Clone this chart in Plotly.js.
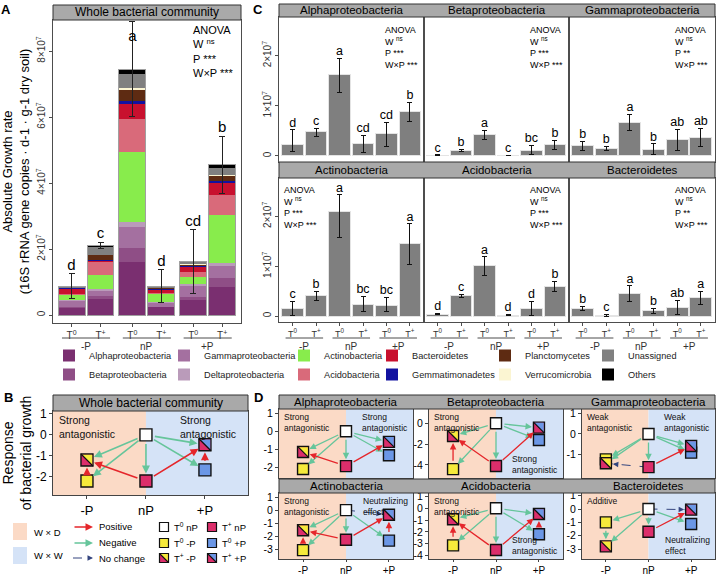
<!DOCTYPE html>
<html><head><meta charset="utf-8">
<script src="https://cdn.plot.ly/plotly-3.0.1.min.js"></script>
<style>html,body{margin:0;padding:0;background:#fff}#chart{width:716px;height:576px}</style>
</head><body><div id="chart"></div>
<script>
// ================= DATA =================
const treatmentLabels = ['T<sup>0</sup>','T<sup>+</sup>','T<sup>0</sup>','T<sup>+</sup>','T<sup>0</sup>','T<sup>+</sup>'];
const pLevels = ['-P','nP','+P'];

// Panel A: absolute growth rate, stacked by taxon (units of 1e7 copies)
const taxaA = ['Alphaproteobacteria','Betaproteobacteria','Gammaproteobacteria','Deltaproteobacteria','Actinobacteria','Acidobacteria','Bacteroidetes','Gemmatimonadetes','Planctomycetes','Verrucomicrobia','Unassigned','Others'];
const alphaA   = [0.22,0.48,1.60,0.25,0.45,0.86];
const betaA    = [0.01,0.10,0.42,0.01,0.11,0.25];
const gammaA   = [0.20,0.15,0.66,0.12,0.32,0.37];
const deltaA   = [0.03,0.06,0.15,0.03,0.05,0.10];
const actinoA  = [0.15,0.41,2.10,0.23,0.22,1.45];
const acidoA   = [0.04,0.41,1.01,0.02,0.15,0.61];
const bacteroA = [0.15,0.02,0.45,0.11,0.17,0.37];
const gemmaA   = [0.01,0.03,0.10,0.02,0.02,0.05];
const planctoA = [0.01,0.15,0.33,0.03,0.03,0.15];
const verruA   = [0.01,0.02,0.05,0.01,0.02,0.04];
const unassA   = [0.03,0.22,0.43,0.04,0.06,0.20];
const othersA  = [0.01,0.07,0.15,0.01,0.02,0.10];
const errA     = [0.38,0.09,1.43,0.50,0.96,0.87];
const lettersA = ['d','c','a','d','cd','b'];
const yTicksA  = [0,2,4,6,8];

// Panel C: per-taxon growth (units of 1e7)
const taxaC = ['Alphaproteobacteria','Betaproteobacteria','Gammaproteobacteria','Actinobacteria','Acidobacteria','Bacteroidetes'];
const alphaC = [0.22,0.48,1.62,0.25,0.45,0.89];
const alphaUp = [0.30,0.07,0.33,0.16,0.22,0.18];
const alphaDn = [0.13,0.09,0.35,0.18,0.26,0.20];
const alphaLet = ['d','c','a','cd','cd','b'];
const betaC = [0.01,0.11,0.42,0.01,0.11,0.22];
const betaUp = [0.01,0.02,0.09,0.005,0.10,0.09];
const betaDn = [0.01,0.02,0.09,0.005,0.09,0.10];
const betaLet = ['c','b','a','c','bc','b'];
const gammaC = [0.20,0.15,0.67,0.12,0.32,0.37];
const gammaUp = [0.09,0.04,0.16,0.12,0.21,0.18];
const gammaDn = [0.09,0.04,0.16,0.10,0.21,0.18];
const gammaLet = ['b','b','a','b','ab','ab'];
const actinoC = [0.15,0.41,2.10,0.23,0.22,1.45];
const actinoUp = [0.14,0.08,0.33,0.16,0.15,0.40];
const actinoDn = [0.13,0.09,0.53,0.14,0.13,0.42];
const actinoLet = ['c','b','a','bc','bc','a'];
const acidoC = [0.04,0.41,1.01,0.02,0.15,0.59];
const acidoUp = [0.01,0.02,0.18,0.01,0.14,0.11];
const acidoDn = [0.01,0.03,0.19,0.01,0.13,0.09];
const acidoLet = ['d','c','a','d','d','b'];
const bacteroC = [0.15,0.02,0.46,0.11,0.17,0.37];
const bacteroUp = [0.04,0.02,0.15,0.04,0.14,0.12];
const bacteroDn = [0.03,0.02,0.17,0.05,0.13,0.14];
const bacteroLet = ['b','c','a','b','ab','a'];
const pSig = ['***','***','**','***','***','**'];
const yTicksC = [0,1,2];

// Panels B & D: responses of bacterial growth
const nodeNames = ['T0 nP','T0 -P','T+ -P','T+ nP','T0 +P','T+ +P'];
const nodeP     = ['nP','-P','-P','nP','+P','+P'];
const wholeResp  = [0,-2.2,-1.2,-2.2,-1.67,-0.47];
const alphaResp  = [0,-2.1,-1.15,-1.94,-1.33,-0.59];
const betaResp   = [0,-4.4,-1.22,-4.1,-1.6,-0.42];
const gammaResp  = [0,-1.24,-1.43,-1.62,-0.91,-0.59];
const actinoResp = [0,-3.07,-1.55,-2.27,-2.34,-0.36];
const acidoResp  = [0,-3.14,-0.93,-3.54,-2.2,-0.48];
const bacteroResp= [0,-1.0,-2.8,-1.71,-1.12,-0.05];
const stdEdges    = [[0,2,'neg'],[0,1,'neg'],[0,3,'neg'],[0,5,'neg'],[0,4,'neg'],[1,2,'pos'],[3,2,'pos'],[3,5,'pos'],[4,5,'pos']];
const gammaEdges  = [[0,1,'neg'],[0,2,'neg'],[0,3,'neg'],[0,5,'neg'],[0,4,'neg'],[3,2,'none'],[3,5,'pos']];
const actinoEdges = [[0,2,'neg'],[0,1,'neg'],[0,3,'neg'],[0,4,'neg'],[0,5,'none'],[1,2,'pos'],[3,2,'pos'],[3,5,'pos'],[4,5,'pos']];
const bacteroEdges= [[0,1,'neg'],[0,2,'neg'],[0,3,'neg'],[0,4,'neg'],[1,2,'neg'],[0,5,'none'],[3,5,'pos'],[4,5,'pos']];
const SA = 'Strong<br>antagonistic', WA = 'Weak<br>antagonistic', NE = 'Neutralizing<br>effect';
const wholeNotes  = [['tl',SA],['tr',SA]];
const alphaNotes  = [['tl',SA],['tr',SA]];
const betaNotes   = [['tl',SA],['br',SA]];
const gammaNotes  = [['tl',WA],['tr',WA]];
const actinoNotes = [['tl',SA],['tr',NE]];
const acidoNotes  = [['tl',SA],['br',SA]];
const bacteroNotes= [['tl','Additive'],['br',NE]];

// ================= STYLE / LAYOUT HELPERS =================
const W = 716, H = 576, S = 1e7;
const fx = p => p / W, fy = p => 1 - p / H;
const FONT = 'Liberation Sans, Arial, sans-serif';
const colorsA = ['#7A2F70','#8F4E86','#A470A0','#BA9BBA','#88EC4C','#D96A7A','#C8102E','#1212A0','#5E2B12','#FBF5D2','#808080','#000000'];
const nodeBase  = ['#FFFFFF','#F6EA3B','#DC2E6B','#DC2E6B','#6B97E6','#DC2E6B'];
const nodeSplit = [null,null,'#F6EA3B',null,null,'#6B97E6'];
const RED = '#E5262B', GREEN = '#66C59B', NAVY = '#34457F';
const PEACH = '#FBDAC6', LBLUE = '#D5E3F7';

const traces = [], shapes = [], annotations = [];
const layout = {
  width: W, height: H, margin: {l:0,r:0,t:0,b:0},
  paper_bgcolor: '#fff', plot_bgcolor: 'rgba(0,0,0,0)',
  font: {family: FONT, size: 10, color: '#000'},
  barmode: 'stack', showlegend: true, hovermode: false,
  shapes, annotations
};
function axisBase() {
  return {showgrid:false, zeroline:false, showline:true, mirror:true, linecolor:'#4d4d4d', linewidth:1,
          ticks:'outside', ticklen:3, tickcolor:'#4d4d4d', tickfont:{size:10, color:'#333'}, fixedrange:true};
}
function strip(x0, x1, y0, y1) {
  shapes.push({type:'rect', xref:'paper', yref:'paper', x0:fx(x0), x1:fx(x1), y0:fy(y1), y1:fy(y0),
    fillcolor:'#A9A9A9', line:{color:'#333', width:1}, layer:'above'});
}
function label(text, x, y, size, opts) {
  annotations.push(Object.assign({xref:'paper', yref:'paper', x:fx(x), y:fy(y), text, showarrow:false,
    font:{size, color:'#000'}, xanchor:'center', yanchor:'middle'}, opts || {}));
}
const anova = p => 'ANOVA<br>W <sup>ns</sup><br>P ' + p + '<br>W×P ***';

// ================= PANEL A =================
const seriesA = [alphaA,betaA,gammaA,deltaA,actinoA,acidoA,bacteroA,gemmaA,planctoA,verruA,unassA,othersA];
const posA = treatmentLabels.map((t, i) => 1 + i + Math.floor(i / 2) * 0.1);
const totalsA = posA.map((_, i) => seriesA.reduce((s, a) => s + a[i], 0));
const rangeAx = [0.36, 6.85], rangeAy = [-0.24 * S, 8.94 * S];
seriesA.forEach((vals, k) => {
  const col = Math.floor(k / 2);
  traces.push({type:'bar', x:posA, y:vals.map(v => v * S), width:0.93, name:taxaA[k],
    marker:{color:colorsA[k], line:{width:0}}, xaxis:'x', yaxis:'y',
    legend: col === 0 ? 'legend' : 'legend' + (col + 1), hoverinfo:'skip'});
});
traces.push({type:'bar', x:posA, y:totalsA.map(v => v * S), width:0.93, showlegend:false,
  marker:{color:'rgba(0,0,0,0)', line:{color:'#a0a0a0', width:1}},
  error_y:{type:'data', array:errA.map(v => v * S), color:'#222', thickness:1, width:3},
  xaxis:'x2', yaxis:'y2', hoverinfo:'skip'});
// letters sit just above the error bar, kept inside the panel
traces.push({type:'scatter', mode:'text', x:posA,
  y:totalsA.map((v, i) => Math.min((v + errA[i]) * S, rangeAy[1] - 0.75 * S)), text:lettersA,
  textposition:'top center', textfont:{size:15}, xaxis:'x2', yaxis:'y2', showlegend:false, cliponaxis:false, hoverinfo:'skip'});
layout.xaxis = Object.assign(axisBase(), {domain:[fx(53), fx(241)], range:rangeAx, anchor:'y',
  tickvals:posA, ticktext:treatmentLabels, tickfont:{size:10, color:'#333'}});
layout.yaxis = Object.assign(axisBase(), {domain:[fy(323), fy(20)], range:rangeAy, anchor:'x',
  tickvals:yTicksA.map(v => v * S), ticktext:yTicksA.map(v => v === 0 ? '0' : v + '×10<sup>7</sup>'), tickangle:-90,
  title:{text:'Absolute Growth rate<br>(16S rRNA gene copies · d-1 · g-1 dry soil)', font:{size:13}, standoff:4}});
layout.xaxis2 = {overlaying:'x', range:rangeAx, visible:false, anchor:'y2', fixedrange:true};
layout.yaxis2 = {overlaying:'y', range:rangeAy, visible:false, anchor:'x2', fixedrange:true};
strip(53, 241, 5, 20);
label('Whole bacterial community', 147, 12.5, 12);
label(anova('***'), 191, 22, 11, {xanchor:'left', yanchor:'top', align:'left'});
pLevels.forEach((p, g) => {
  const a = posA[2 * g], b = posA[2 * g + 1];
  shapes.push({type:'line', xref:'x', yref:'paper', x0:a - 0.33, x1:b + 0.33, y0:fy(338), y1:fy(338), line:{color:'#4d4d4d', width:1}});
  annotations.push({xref:'x', yref:'paper', x:(a + b) / 2, y:fy(346), text:p, showarrow:false, font:{size:10, color:'#333'}});
});

// legends (6 columns x 2 rows)
const legendTextX = [89, 204, 324, 412, 525, 628];
legendTextX.forEach((tx, c) => {
  layout[c === 0 ? 'legend' : 'legend' + (c + 1)] = {x:fx(tx - 40), xanchor:'left', y:fy(341), yanchor:'top',
    orientation:'v', traceorder:'normal', font:{size:9.2, color:'#222'}, bgcolor:'rgba(0,0,0,0)', borderwidth:0,
    tracegroupgap:0, itemwidth:30, itemclick:false, itemdoubleclick:false};
});

// ================= PANEL C =================
const valsC = [alphaC, betaC, gammaC, actinoC, acidoC, bacteroC];
const upC = [alphaUp, betaUp, gammaUp, actinoUp, acidoUp, bacteroUp];
const dnC = [alphaDn, betaDn, gammaDn, actinoDn, acidoDn, bacteroDn];
const letC = [alphaLet, betaLet, gammaLet, actinoLet, acidoLet, bacteroLet];
const posC = treatmentLabels.map((t, i) => i + 1);
const cCols = [[279, 424], [424, 569], [569, 715]];
const cRows = [[17, 162], [178, 322]];
const anovaXC = [[383, 528, 673], [282, 528, 673]];
const anovaYC = [23, 183];
const rangeCy = [-0.12 * S, 2.77 * S];
taxaC.forEach((nm, i) => {
  const n = 3 + i, col = i % 3, row = Math.floor(i / 3), xa = 'x' + n, ya = 'y' + n;
  traces.push({type:'bar', x:posC, y:valsC[i].map(v => v * S), width:0.93, showlegend:false,
    marker:{color:'#7F7F7F', line:{color:'#e4e4e4', width:1}},
    error_y:{type:'data', symmetric:false, array:upC[i].map(v => v * S), arrayminus:dnC[i].map(v => v * S), color:'#111', thickness:1, width:2.5},
    xaxis:xa, yaxis:ya, hoverinfo:'skip'});
  traces.push({type:'scatter', mode:'text', x:posC,
    y:valsC[i].map((v, j) => Math.min((v + upC[i][j]) * S, rangeCy[1] - 0.3 * S)), text:letC[i],
    textposition:'top center', textfont:{size:12.5}, xaxis:xa, yaxis:ya, showlegend:false, cliponaxis:false, hoverinfo:'skip'});
  layout['xaxis' + n] = Object.assign(axisBase(), {domain:[fx(cCols[col][0]), fx(cCols[col][1])], range:[0.42, 6.6], anchor:ya,
    tickvals:posC, ticktext:treatmentLabels, showticklabels:row === 1, ticks:row === 1 ? 'outside' : '', tickfont:{size:9, color:'#333'}});
  layout['yaxis' + n] = Object.assign(axisBase(), {domain:[fy(cRows[row][1]), fy(cRows[row][0])], range:rangeCy, anchor:xa,
    tickvals:yTicksC.map(v => v * S), ticktext:yTicksC.map(v => v === 0 ? '0' : v + '×10<sup>7</sup>'), tickangle:-90,
    showticklabels:col === 0, ticks:col === 0 ? 'outside' : ''});
  label(nm, (cCols[col][0] + cCols[col][1]) / 2, row === 0 ? 10.5 : 170, 11.5);
  label(anova(pSig[i]), anovaXC[row][col], anovaYC[row], 9, {xanchor:'left', yanchor:'top', align:'left'});
  if (row === 1) {
    pLevels.forEach((p, g) => {
      const a = posC[2 * g], b = posC[2 * g + 1];
      shapes.push({type:'line', xref:xa, yref:'paper', x0:a - 0.3, x1:b + 0.3, y0:fy(338), y1:fy(338), line:{color:'#4d4d4d', width:1}});
      annotations.push({xref:xa, yref:'paper', x:(a + b) / 2, y:fy(346), text:p, showarrow:false, font:{size:10, color:'#333'}});
    });
  }
});
strip(279, 715, 4, 17);
strip(279, 715, 162, 178);

// ================= PANELS B & D =================
function addRespPanel(n, dom, xr, yr, yticks, resp, edges, notes, opt) {
  const xa = 'x' + n, ya = 'y' + n;
  const xs = nodeP.map(p => pLevels.indexOf(p));
  const mid = pLevels.indexOf('nP');
  shapes.push({type:'rect', xref:xa, yref:ya + ' domain', x0:xr[0], x1:mid, y0:0, y1:1, fillcolor:PEACH, line:{width:0}, layer:'below'});
  shapes.push({type:'rect', xref:xa, yref:ya + ' domain', x0:mid, x1:xr[1], y0:0, y1:1, fillcolor:LBLUE, line:{width:0}, layer:'below'});
  const pxX = (dom.x[1] - dom.x[0]) / (xr[1] - xr[0]);
  const pxY = (dom.y[1] - dom.y[0]) / (yr[1] - yr[0]);
  edges.filter(e => e[2] === 'none').forEach(e => {
    const a = e[0], b = e[1];
    traces.push({type:'scatter', mode:'lines', x:[xs[a], xs[b]], y:[resp[a], resp[b]], line:{color:NAVY, width:1, dash:'dash'},
      xaxis:xa, yaxis:ya, showlegend:false, hoverinfo:'skip'});
    const dx = (xs[b] - xs[a]) * pxX, dy = -(resp[b] - resp[a]) * pxY, L = Math.hypot(dx, dy);
    annotations.push({xref:xa, yref:ya, x:xs[b], y:resp[b], ax:-dx / L * (opt.st + 5), ay:-dy / L * (opt.st + 5), text:'',
      showarrow:true, arrowhead:2, arrowsize:1.1, arrowwidth:1, arrowcolor:NAVY, standoff:opt.st});
  });
  traces.push({type:'scatter', mode:'markers', x:xs, y:resp, text:nodeNames,
    marker:{symbol:'square', size:opt.ms, color:nodeBase, line:{color:'#111', width:1.4}},
    xaxis:xa, yaxis:ya, showlegend:false, hoverinfo:'skip', cliponaxis:false});
  nodeSplit.forEach((c, k) => {
    if (!c) return;
    const r = opt.ms / 2 - 0.7, h = opt.ms / 2;
    shapes.push({type:'path', xref:xa, yref:ya, xsizemode:'pixel', ysizemode:'pixel', xanchor:xs[k], yanchor:resp[k],
      path:`M ${-r} ${r} L ${r} ${r} L ${r} ${-r} Z`, fillcolor:c, line:{width:0}, layer:'above'});
    shapes.push({type:'line', xref:xa, yref:ya, xsizemode:'pixel', ysizemode:'pixel', xanchor:xs[k], yanchor:resp[k],
      x0:-h, y0:h, x1:h, y1:-h, line:{color:'#111', width:1.2}, layer:'above'});
  });
  edges.filter(e => e[2] !== 'none').forEach(e => {
    const a = e[0], b = e[1];
    annotations.push({xref:xa, yref:ya, axref:xa, ayref:ya, x:xs[b], y:resp[b], ax:xs[a], ay:resp[a], text:'',
      showarrow:true, arrowhead:2, arrowsize:opt.as, arrowwidth:opt.aw, arrowcolor:e[2] === 'pos' ? RED : GREEN,
      standoff:opt.st, startstandoff:opt.st});
  });
  notes.forEach(([pos, txt]) => {
    const o = {xref:'paper', yref:'paper', text:txt, showarrow:false, align:'left', font:{size:opt.nfs, color:'#111'}};
    if (pos === 'tl') Object.assign(o, {x:fx(dom.x[0] + opt.pad), y:fy(dom.y[0] + 1), xanchor:'left', yanchor:'top'});
    if (pos === 'tr') Object.assign(o, {x:fx(dom.x[1] - opt.rpad), y:fy(dom.y[0] + 1), xanchor:'right', yanchor:'top'});
    if (pos === 'br') Object.assign(o, {x:fx(dom.x[1] - opt.rpad), y:fy(dom.y[1] - 1), xanchor:'right', yanchor:'bottom'});
    annotations.push(o);
  });
  layout['xaxis' + n] = Object.assign(axisBase(), {domain:[fx(dom.x[0]), fx(dom.x[1])], range:xr, anchor:ya,
    tickvals:[0, 1, 2], ticktext:pLevels, showticklabels:opt.xlab, ticks:opt.xlab ? 'outside' : '', ticklen:opt.tl,
    tickfont:{size:opt.xfs, color:'#000'}, linecolor:'#444', tickcolor:'#444'});
  layout['yaxis' + n] = Object.assign(axisBase(), {domain:[fy(dom.y[1]), fy(dom.y[0])], range:yr, anchor:xa,
    tickvals:yticks, ticktext:yticks.map(String), tickfont:{size:opt.yfs, color:'#000'}, linecolor:'#444', tickcolor:'#444'},
    opt.title ? {title:{text:opt.title, font:{size:14}, standoff:3}} : {});
}

// Panel B
addRespPanel(9, {x:[53, 248], y:[411, 495]}, [-0.576, 2.73], [-2.87, 1.14], [-2, -1, 0, 1], wholeResp, stdEdges, wholeNotes,
  {ms:12, st:7.5, aw:1.6, as:1, nfs:10.5, pad:4, rpad:10, xlab:true, xfs:13, yfs:12, tl:3, title:'Response<br>of bacterial growth'});
strip(53, 248, 395, 411);
label('Whole bacterial community', 150.5, 403, 12);

// Panel D
const respD = [alphaResp, betaResp, gammaResp, actinoResp, acidoResp, bacteroResp];
const edgesD = [stdEdges, stdEdges, gammaEdges, actinoEdges, stdEdges, bacteroEdges];
const notesD = [alphaNotes, betaNotes, gammaNotes, actinoNotes, acidoNotes, bacteroNotes];
const dRanges = [[-2.6, 1.24], [-5.25, 1.37], [-2.15, 1.22], [-3.75, 1.31], [-4.3, 1.3], [-3.75, 1.2]];
const dTicks = [[-2, -1, 0, 1], [-4, -2, 0], [-1, 0, 1], [-3, -2, -1, 0, 1], [-4, -3, -2, -1, 0, 1], [-3, -2, -1, 0, 1]];
const dCols = [[279, 413], [429, 563], [582, 715]];
const dRows = [[409, 478], [493, 559]];
taxaC.forEach((nm, i) => {
  const col = i % 3, row = Math.floor(i / 3);
  addRespPanel(10 + i, {x:dCols[col], y:dRows[row]}, [-0.56, 2.56], dRanges[i], dTicks[i], respD[i], edgesD[i], notesD[i],
    {ms:11, st:7, aw:1.3, as:1, nfs:8.5, pad:3, rpad:3, xlab:row === 1, xfs:10, yfs:10.5, tl:2});
  label(nm, (dCols[col][0] + dCols[col][1]) / 2, row === 0 ? 402 : 486, 11.5);
});
strip(279, 715, 395, 409);
strip(279, 715, 479, 493);

// Legend for B/D (bottom-left)
shapes.push({type:'rect', xref:'paper', yref:'paper', x0:fx(13), x1:fx(27), y0:fy(540), y1:fy(523), fillcolor:PEACH, line:{width:0}});
shapes.push({type:'rect', xref:'paper', yref:'paper', x0:fx(13), x1:fx(27), y0:fy(564), y1:fy(547), fillcolor:LBLUE, line:{width:0}});
label('W × D', 32, 532, 9.5, {xanchor:'left'});
label('W × W', 32, 555, 9.5, {xanchor:'left'});
annotations.push({xref:'paper', yref:'paper', x:fx(93), y:fy(527), ax:-20, ay:0, text:'', showarrow:true, arrowhead:2, arrowsize:1, arrowwidth:1.5, arrowcolor:RED});
annotations.push({xref:'paper', yref:'paper', x:fx(93), y:fy(543), ax:-20, ay:0, text:'', showarrow:true, arrowhead:2, arrowsize:1, arrowwidth:1.5, arrowcolor:GREEN});
shapes.push({type:'line', xref:'paper', yref:'paper', x0:fx(73), x1:fx(88), y0:fy(558), y1:fy(558), line:{color:NAVY, width:1, dash:'dash'}});
annotations.push({xref:'paper', yref:'paper', x:fx(93), y:fy(558), ax:-6, ay:0, text:'', showarrow:true, arrowhead:2, arrowsize:1.1, arrowwidth:1, arrowcolor:NAVY});
label('Positive', 97, 526, 9.5, {xanchor:'left'});
label('Negative', 97, 542, 9.5, {xanchor:'left'});
label('No change', 97, 558, 9.5, {xanchor:'left'});
const legNodes = [[0, 164, 527, 'T<sup>0</sup> nP'], [3, 212, 527, 'T<sup>+</sup> nP'], [1, 164, 543, 'T<sup>0</sup> -P'],
                  [4, 212, 543, 'T<sup>0</sup> +P'], [2, 164, 558, 'T<sup>+</sup> -P'], [5, 212, 558, 'T<sup>+</sup> +P']];
legNodes.forEach(([k, cx, cy, txt]) => {
  const s = 9, h = s / 2;
  shapes.push({type:'rect', xref:'paper', yref:'paper', x0:fx(cx - h), x1:fx(cx + h), y0:fy(cy + h), y1:fy(cy - h),
    fillcolor:nodeBase[k], line:{color:'#111', width:1.2}});
  if (nodeSplit[k]) {
    const r = h - 0.6;
    shapes.push({type:'path', xref:'paper', yref:'paper',
      path:`M ${fx(cx - r)} ${fy(cy - r)} L ${fx(cx + r)} ${fy(cy - r)} L ${fx(cx + r)} ${fy(cy + r)} Z`, fillcolor:nodeSplit[k], line:{width:0}});
    shapes.push({type:'line', xref:'paper', yref:'paper', x0:fx(cx - h), y0:fy(cy - h), x1:fx(cx + h), y1:fy(cy + h), line:{color:'#111', width:1.1}});
  }
  label(txt, cx + 8, cy, 9.5, {xanchor:'left'});
});

// Panel letters
label('<b>A</b>', 6, 9, 13);
label('<b>B</b>', 8, 397, 13);
label('<b>C</b>', 258, 9, 13);
label('<b>D</b>', 258, 397, 13);

Plotly.newPlot('chart', traces, layout, {staticPlot:true, displayModeBar:false});
</script></body></html>
